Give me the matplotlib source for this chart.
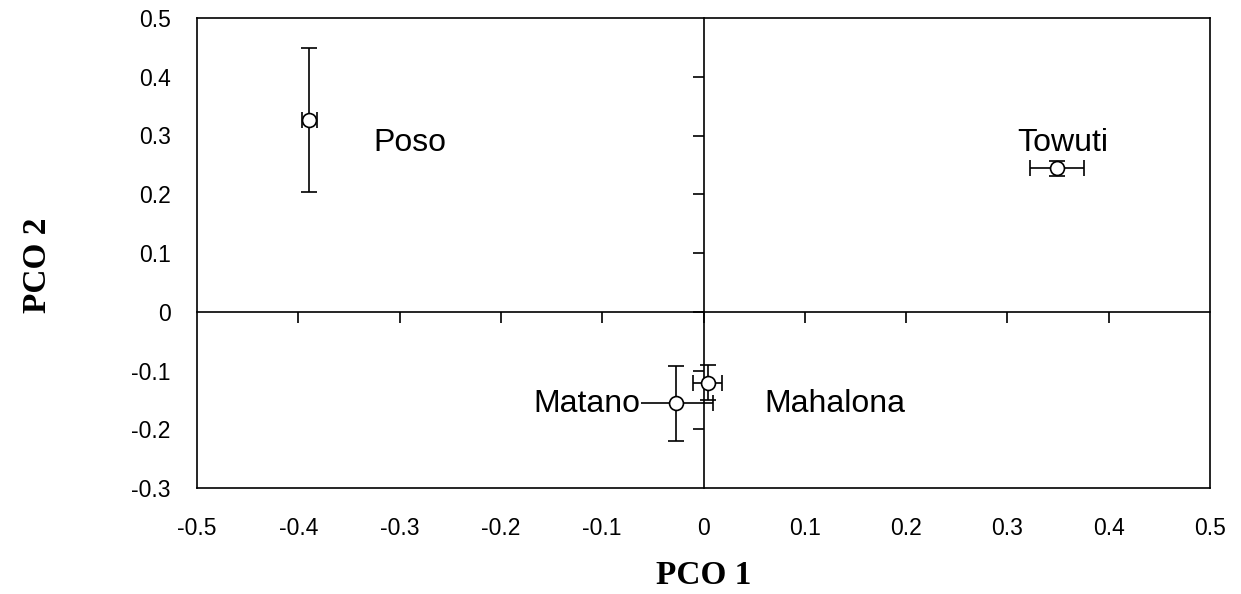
import matplotlib
matplotlib.use("Agg")
import matplotlib.pyplot as plt
import numpy as np

lakes = ["Poso", "Towuti", "Matano", "Mahalona"]
pco1 = [-0.389, 0.349, -0.027, 0.004]
pco2 = [0.326, 0.244, -0.156, -0.121]
pco1_err = [0.007, 0.027, 0.036, 0.014]
pco2_err = [0.123, 0.013, 0.064, 0.030]
label_x = [-0.326, 0.400, -0.062, 0.060]
label_y = [0.288, 0.288, -0.157, -0.157]
label_ha = ["left", "right", "right", "left"]

xticks = [-0.5, -0.4, -0.3, -0.2, -0.1, 0, 0.1, 0.2, 0.3, 0.4, 0.5]
yticks = [-0.3, -0.2, -0.1, 0, 0.1, 0.2, 0.3, 0.4, 0.5]
xticklabels = ["-0.5", "-0.4", "-0.3", "-0.2", "-0.1", "0", "0.1", "0.2", "0.3", "0.4", "0.5"]
yticklabels = ["-0.3", "-0.2", "-0.1", "0", "0.1", "0.2", "0.3", "0.4", "0.5"]

plt.rcParams['font.family'] = ['Liberation Sans', 'DejaVu Sans']

fig = plt.figure(figsize=(12.41, 5.94), dpi=100)
pos = [197/1241, 1 - 488/594, (1210-197)/1241, (488-18)/594]
ax = fig.add_axes(pos)
ax.set_xlim(-0.5, 0.5)
ax.set_ylim(-0.3, 0.5)
for s in ax.spines.values():
    s.set_linewidth(1.2)
ax.set_xticks(xticks)
ax.set_xticklabels(xticklabels)
ax.set_yticks(yticks)
ax.set_yticklabels(yticklabels)
ax.tick_params(length=0, labelsize=16.5)
ax.tick_params(axis='x', pad=21)
ax.tick_params(axis='y', pad=19)

# overlay axes for zero-crossing axis lines with ticks
ax2 = fig.add_axes(pos)
ax2.patch.set_visible(False)
ax2.set_xlim(-0.5, 0.5)
ax2.set_ylim(-0.3, 0.5)
ax2.spines['top'].set_visible(False)
ax2.spines['right'].set_visible(False)
ax2.spines['left'].set_position(('data', 0))
ax2.spines['bottom'].set_position(('data', 0))
ax2.spines['left'].set_linewidth(1.2)
ax2.spines['bottom'].set_linewidth(1.2)
ax2.tick_params(direction='out', length=8, width=1.2, labelleft=False, labelbottom=False)
ax2.set_xticks(xticks[1:-1])
ax2.set_yticks(yticks[1:-1])

ax2.errorbar(pco1, pco2, xerr=pco1_err, yerr=pco2_err, fmt='o', color='black',
             mfc='white', mec='black', ms=10, mew=1.2, elinewidth=1.2,
             capsize=6, capthick=1.2, zorder=3)

for name, lx, ly, ha in zip(lakes, label_x, label_y, label_ha):
    ax2.text(lx, ly, name, ha=ha, va='center', fontsize=23,
             bbox=dict(facecolor='white', edgecolor='none', pad=0) if name == "Matano" else None,
             zorder=4)

fig.text((197+1210)/2/1241, 1 - 575/594, "PCO 1", ha='center', va='center',
         fontsize=24, fontweight='bold', family=['Liberation Serif', 'DejaVu Serif'])
fig.text(38/1241, 1 - 265/594, "PCO 2", ha='center', va='center', rotation=90,
         fontsize=24, fontweight='bold', family=['Liberation Serif', 'DejaVu Serif'])

fig.savefig("out.png", dpi=100)
